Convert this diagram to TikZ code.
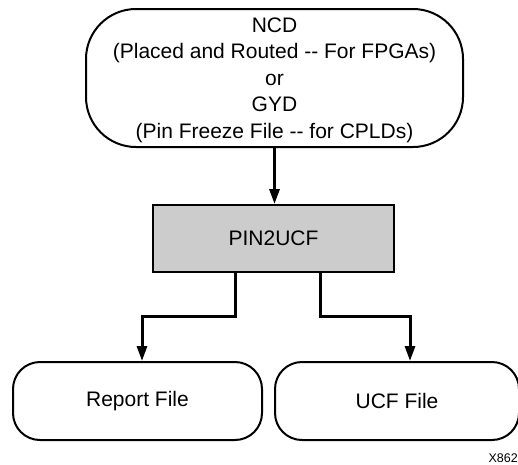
\documentclass[tikz,border=0pt]{standalone}
\usepackage{fontspec}
\setmainfont{Liberation Sans}
\usepackage{xcolor}
\definecolor{lineDark}{HTML}{000000}
\definecolor{toolGray}{HTML}{CCCCCC}
\usepackage{tikz}
\usetikzlibrary{positioning,arrows.meta}
\tikzset{%
  sourceBox/.style={%
    rectangle,
    rounded corners=50pt,
    draw=lineDark,
    line width=2pt,
    fill=white,
    minimum width=377pt,
    minimum height=138pt,
    inner sep=2pt,
    text depth=-5pt,
    align=center
  },
  toolBox/.style={%
    rectangle,
    draw=lineDark,
    line width=2pt,
    fill=toolGray,
    minimum width=241pt,
    minimum height=67pt,
    align=center
  },
  fileBox/.style={%
    rectangle,
    rounded corners=27pt,
    draw=lineDark,
    line width=2pt,
    fill=white,
    minimum width=249pt,
    minimum height=78pt,
    align=center
  },
  arrowLine/.style={%
    -{Triangle[length=15pt,width=10pt]},
    line width=3pt,
    color=lineDark
  }
}

\begin{document}
\begin{tikzpicture}[
                x=1pt, y=-1pt,
                every node/.style={font=\fontsize{21}{26.5}\selectfont}
            ]
            \useasboundingbox (0,0) rectangle (518,464);
            \node[sourceBox] (src) at (274.5,78) {NCD\\(Placed and Routed -\kern0pt- For FPGAs)\\or\\GYD\\(Pin Freeze File -\kern0pt- for CPLDs)};
            \node[toolBox, below=56pt of src, xshift=-1pt] (pin) {PIN2UCF};

            \node[fileBox] (report) at (137.5,401) {Report File};
            \node[fileBox, right=11pt of report, minimum width=244pt] (ucf) {UCF File};

            \node[font=\fontsize{12.5}{14}\selectfont, anchor=south east, inner sep=0pt] (figno) at (518,463) {X862};

            \draw[arrowLine] (src.south) -- (src.south |- pin.north);
            \draw[arrowLine] ([xshift=-38.5pt]pin.south) -- ++(0,43) -| ([xshift=4.5pt]report.north);
            \draw[arrowLine] ([xshift=46.5pt]pin.south) -- ++(0,43) -| ([xshift=13pt]ucf.north);
        \end{tikzpicture}
\end{document}
